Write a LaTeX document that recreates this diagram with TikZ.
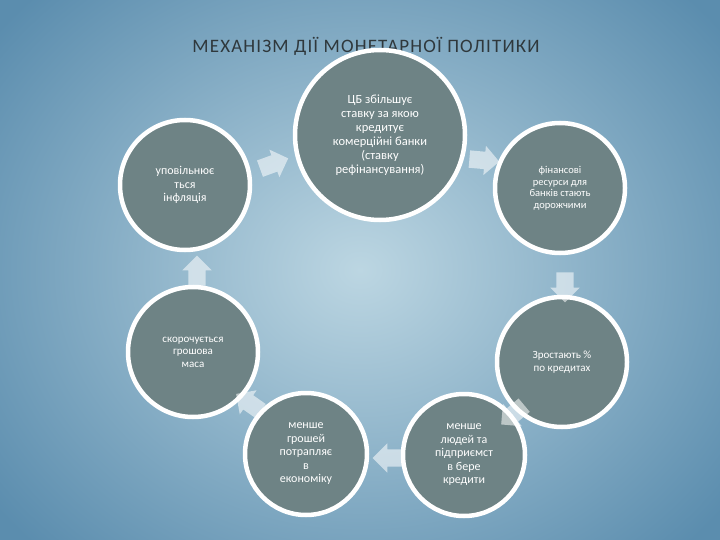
\documentclass[tikz,border=0pt]{standalone}
\usepackage{fontspec}
\setmainfont{Carlito}
\usetikzlibrary{shapes.arrows,calc}
\definecolor{circ}{HTML}{6E8385}
\definecolor{bgin}{HTML}{BCD6E2}
\definecolor{bgout}{HTML}{5B8DAE}
\definecolor{ttl}{HTML}{2F383C}
\tikzset{
  bub/.style={circle,fill=circ,draw=white,line width=4.5pt,minimum size=#1,inner sep=1pt,text=white,align=center,font=\fontsize{12}{13.5}\selectfont},
  blk/.style={single arrow,fill=white,fill opacity=0.55,draw=none,minimum height=30pt,single arrow head extend=6pt,inner sep=0pt,single arrow tip angle=90}
}
\begin{document}
\begin{tikzpicture}[x=1pt,y=-1pt]
\useasboundingbox (0,0) rectangle (720,540);
\begin{scope}
\clip (0,0) rectangle (720,540);
\shade[inner color=bgin,outer color=bgout] (-100,-120) rectangle (820,660);
\end{scope}
\node[text=ttl,font=\fontsize{19}{22}\selectfont\addfontfeatures{LetterSpace=6}] (title) at (366,46) {МЕХАНІЗМ ДІЇ МОНЕТАРНОЇ ПОЛІТИКИ};
\node[bub=170pt,font=\fontsize{12.5}{14}\selectfont] (c1) at (380,135) {ЦБ збільшує\\ставку за якою\\кредитує\\комерційні банки\\(ставку\\рефінансування)};
\node[bub=130pt,font=\fontsize{10.5}{11.5}\selectfont] (c2) at (560,188) {фінансові\\ресурси для\\банків стають\\дорожчими};
\node[bub=130pt,font=\fontsize{11}{12.5}\selectfont] (c3) at (562,362) {Зростають \%\\по кредитах};
\node[bub=122pt] (c4) at (464,455) {менше\\людей та\\підприємст\\в бере\\кредити};
\node[bub=122pt] (c5) at (306,454) {менше\\грошей\\потрапляє\\в\\економіку};
\node[bub=130pt,font=\fontsize{11}{12.5}\selectfont] (c6) at (193,352) {скорочується\\грошова\\маса};
\node[bub=130pt] (c7) at (185,185) {уповільнює\\ться\\інфляція};
\node[blk,rotate=20] (a1) at (270,165) {\rule{0pt}{17pt}};
\node[blk,rotate=-5] (a2) at (480,160) {\rule{0pt}{17pt}};
\node[blk,rotate=-90] (a3) at (565,283) {\rule{0pt}{17pt}};
\node[blk,rotate=-140] (a4) at (516,412) {\rule{0pt}{17pt}};
\node[blk,rotate=180] (a5) at (392,458) {\rule{0pt}{17pt}};
\node[blk,rotate=145] (a6) at (252,405) {\rule{0pt}{17pt}};
\node[blk,rotate=90] (a7) at (197,275) {\rule{0pt}{17pt}};
\end{tikzpicture}
\end{document}
